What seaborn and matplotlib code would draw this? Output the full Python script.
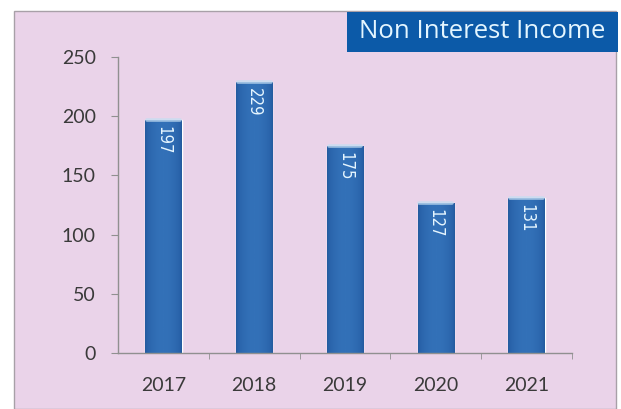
import numpy as np
import pandas as pd
import matplotlib
matplotlib.use("Agg")
import matplotlib.pyplot as plt
from matplotlib.patches import Rectangle
import seaborn as sns

years = ["2017", "2018", "2019", "2020", "2021"]
income = [197, 229, 175, 127, 131]
y_ticks = [0, 50, 100, 150, 200, 250]
title = "Non Interest Income"

sns.set_style("white")
plt.rcParams["font.family"] = ["Lato", "DejaVu Sans"]

panel_color = "#EAD3E9"
bar_color = "#2862A9"

fig = plt.figure(figsize=(6.21, 4.09), dpi=100)
fig.patch.set_facecolor("white")

# pink chart panel with a thin grey frame, kept behind the axes
W, H = 621, 409
fig.patches.append(Rectangle((14 / W, 0), (616 - 14) / W, (409 - 11) / H,
                             transform=fig.transFigure, facecolor=panel_color,
                             edgecolor="#A8A0A8", linewidth=1.0, zorder=-1))

ax = fig.add_axes([118 / W, 1 - 353 / H, (572 - 118) / W, (353 - 57) / H])
ax.set_facecolor("none")
ax.set_zorder(1)

df = pd.DataFrame({"year": years, "income": income})
sns.barplot(data=df, x="year", y="income", color=bar_color, width=0.4,
            saturation=1, ax=ax, zorder=2)

# cylinder shading on each bar
shade = np.linspace(0, 1, 64)
profile = 1 - 0.6 * (2 * shade - 1) ** 2
cmap = matplotlib.colors.LinearSegmentedColormap.from_list(
    "cyl", ["#143A6E", "#2862A9", "#3371B8"])
for p in list(ax.patches):
    x0, w, h = p.get_x(), p.get_width(), p.get_height()
    im = ax.imshow(profile[np.newaxis, :], cmap=cmap, vmin=0, vmax=1,
                   extent=[x0, x0 + w, 0, h], aspect="auto", zorder=2.5,
                   interpolation="bicubic")
    im.set_clip_path(p)
    # soft highlight on the bar top
    ax.plot([x0 + w * 0.05, x0 + w * 0.95], [h, h], color="#C4DDF2",
            lw=2.6, alpha=0.75, zorder=3, solid_capstyle="round")

for i, v in enumerate(income):
    ax.text(i, v - 5, str(v), rotation=-90, ha="center", va="top",
            color="#E6F6FF", fontsize=12, family="DejaVu Sans",
            fontstretch="condensed", zorder=4)

ax.set_xlim(-0.5, len(years) - 0.5)
ax.set_ylim(0, 250)
ax.set_yticks(y_ticks)
ax.set_xlabel("")
ax.set_ylabel("")
ax.set_xticks(range(len(years)))
ax.set_xticklabels(years)
ax.set_xticks(np.arange(0.5, len(years) - 0.5 + 1e-9, 1.0), minor=True)
ax.tick_params(axis="x", which="major", length=0, pad=17,
               labelsize=14, labelcolor="#3A3A3A")
ax.tick_params(axis="x", which="minor", length=4, color="#909090",
               direction="out", bottom=True)
ax.tick_params(axis="y", length=5, color="#909090", direction="out", left=True,
               pad=11, labelsize=14, labelcolor="#3A3A3A")

for s in ["top", "right"]:
    ax.spines[s].set_visible(False)
for s in ["left", "bottom"]:
    ax.spines[s].set_color("#909090")
    ax.spines[s].set_linewidth(1.0)

# title banner in the top-right corner
fig.patches.append(Rectangle((347 / W, 1 - 52 / H), (618 - 347) / W, 40 / H,
                             transform=fig.transFigure, facecolor="#0C5AA8",
                             edgecolor="none", zorder=5))
fig.text(482 / W, 1 - 32 / H, title, ha="center", va="center",
         color="#E4F6FF", fontsize=18.5, family=["Open Sans", "DejaVu Sans"],
         zorder=6)

fig.savefig("out.png", dpi=100)
